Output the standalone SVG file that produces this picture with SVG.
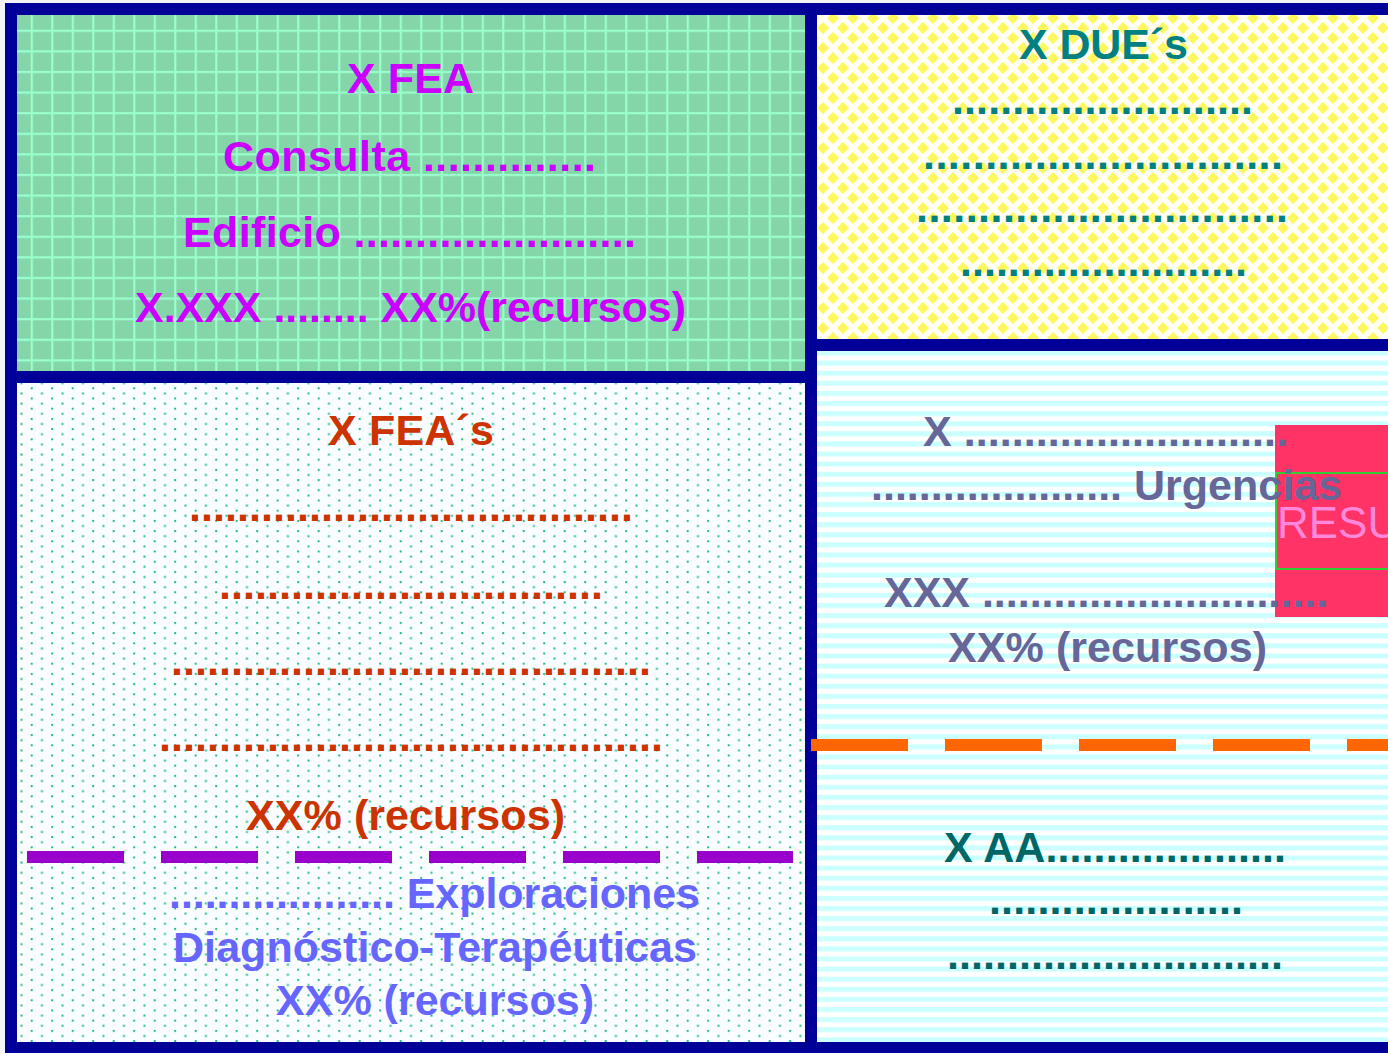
<svg xmlns="http://www.w3.org/2000/svg" width="1388" height="1053" viewBox="0 0 1388 1053">
<defs>
<pattern id="grid" patternUnits="userSpaceOnUse" x="10.2" y="9.1" width="20.5" height="20.6">
<rect width="20.5" height="20.6" fill="#84D6A9"/>
<rect x="0" y="0" width="2.2" height="20.6" fill="#99FFCC"/>
<rect x="0" y="0" width="20.5" height="2.2" fill="#99FFCC"/>
</pattern>
<pattern id="diam" patternUnits="userSpaceOnUse" x="3" y="8" width="20" height="20">
<rect width="20" height="20" fill="#FFFFF4"/>
<path d="M0,-6 L6,0 L0,6 L-6,0Z M20,-6 L26,0 L20,6 L14,0Z M0,14 L6,20 L0,26 L-6,20Z M20,14 L26,20 L20,26 L14,20Z M10,4 L16,10 L10,16 L4,10Z" fill="#FFF75E"/>
</pattern>
<pattern id="dots" patternUnits="userSpaceOnUse" x="10.2" y="9.9" width="20.5" height="10.2">
<rect width="20.5" height="10.2" fill="#FAFDFF"/>
<rect x="0" y="0" width="2" height="2" fill="#22BB88"/>
<rect x="10.25" y="5.1" width="2" height="2" fill="#22BB88"/>
</pattern>
<pattern id="stripes" patternUnits="userSpaceOnUse" x="0" y="7.1" width="20" height="10.1">
<rect width="20" height="10.1" fill="#FFFFFF"/>
<rect width="20" height="5" fill="#CCFFFF"/>
</pattern>
<style>
text{font-family:"Liberation Sans",Arial,sans-serif;font-weight:bold;font-size:43px}
.mag{fill:#CC00FF}
.teal{fill:#008080}
.slate{fill:#666699}
.dteal{fill:#006666}
.red{fill:#CC3300}
.blue{fill:#6666FF}
</style>
</defs>
<rect width="1388" height="1053" fill="#F4F4F8"/>
<rect x="5" y="3" width="1383" height="1050" fill="#000099"/>

<g id="panel-fea">
<rect x="17" y="15" width="788" height="356" fill="url(#grid)"/>
<text class="mag" x="347" y="92.7" textLength="127">X FEA</text>
<text class="mag" x="223" y="170.7" textLength="373">Consulta ..............</text>
<text class="mag" x="183" y="246.7" textLength="453">Edificio .......................</text>
<text class="mag" x="135" y="321.7" textLength="551">X.XXX ........ XX%(recursos)</text>
</g>

<g id="panel-due">
<rect x="817" y="15" width="571" height="324" fill="url(#diam)"/>
<text class="teal" x="1019" y="59.3" textLength="169">X DUE´s</text>
<text class="teal" x="952" y="114" textLength="301">.........................</text>
<text class="teal" x="923" y="168.7" textLength="360">.............................</text>
<text class="teal" x="916" y="222" textLength="372">..............................</text>
<text class="teal" x="960" y="276.3" textLength="287">........................</text>
</g>

<g id="panel-feas">
<rect x="17" y="383" width="788" height="659" fill="url(#dots)"/>
<text class="red" x="328" y="445" textLength="166">X FEA´s</text>
<text class="red" x="189" y="521" textLength="444">.....................................</text>
<text class="red" x="219" y="598.5" textLength="384">................................</text>
<text class="red" x="171" y="675" textLength="480">........................................</text>
<text class="red" x="159" y="751" textLength="504">..........................................</text>
<text class="red" x="246" y="830" textLength="319">XX% (recursos)</text>
<text class="blue" x="169" y="908" textLength="531">................... Exploraciones</text>
<text class="blue" x="173" y="962" textLength="524">Diagnóstico-Terapéuticas</text>
<text class="blue" x="276" y="1015" textLength="318">XX% (recursos)</text>
</g>

<g id="panel-urg">
<rect x="817" y="351" width="571" height="691" fill="url(#stripes)"/>
</g>

<g id="resumen">
<rect x="1275" y="425" width="113" height="192" fill="#FF3366"/>
<rect x="1276" y="473" width="120" height="96" fill="none" stroke="#33CC33" stroke-width="2"/>
<text x="1277" y="538" style="font-weight:normal;font-size:44px" fill="#FF88DD">RESU</text>
</g>

<g id="urg-text">
<text class="slate" x="923" y="446" textLength="365">X ...........................</text>
<text class="slate" x="871" y="500" textLength="471">..................... Urgencias</text>
<text class="slate" x="884" y="607" textLength="444">XXX .............................</text>
<text class="slate" x="948" y="662" textLength="319">XX% (recursos)</text>
</g>

<g id="aa-text">
<text class="dteal" x="944" y="862" textLength="342">X AA....................</text>
<text class="dteal" x="989" y="914" textLength="254">.....................</text>
<text class="dteal" x="947" y="968.5" textLength="336">............................</text>
</g>

<g id="connectors">
<line x1="811" y1="745" x2="1388" y2="745" stroke="#FF6600" stroke-width="12" stroke-dasharray="97 37"/>
<line x1="27" y1="857" x2="793" y2="857" stroke="#9900CC" stroke-width="12" stroke-dasharray="97 37"/>
</g>
</svg>
